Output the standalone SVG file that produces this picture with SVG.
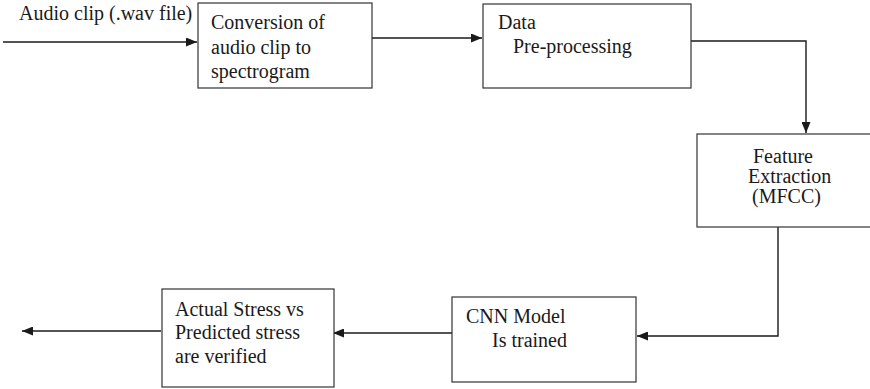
<svg xmlns="http://www.w3.org/2000/svg" width="870" height="389" viewBox="0 0 870 389">
  <style>
    .box { fill: #ffffff; stroke: #333333; stroke-width: 1.2; }
    .lbl { font-family: "Liberation Serif", "Times New Roman", serif; font-size: 20px; fill: #1a1a1a; }
    .wire { fill: none; stroke: #1a1a1a; stroke-width: 1.4; }
  </style>
  <defs>
    <marker id="arrow" markerWidth="11" markerHeight="9" refX="11" refY="4.5" orient="auto" markerUnits="userSpaceOnUse">
      <path d="M0,0 L11,4.5 L0,9 Z" fill="#1a1a1a"/>
    </marker>
  </defs>
  <rect width="870" height="389" fill="#ffffff"/>

  <g id="connectors">
    <path class="wire" d="M3,42 L197,42" marker-end="url(#arrow)"/>
    <path class="wire" d="M372,38 L482,38" marker-end="url(#arrow)"/>
    <path class="wire" d="M689,41 L806,41 L806,133" marker-end="url(#arrow)"/>
    <path class="wire" d="M778,227 L778,336 L637,336" marker-end="url(#arrow)"/>
    <path class="wire" d="M452,333 L333,333" marker-end="url(#arrow)"/>
    <path class="wire" d="M161,331 L22,331" marker-end="url(#arrow)"/>
  </g>

  <g id="input-label">
    <text class="lbl" x="19" y="20">Audio clip (.wav file)</text>
  </g>

  <g id="conversion">
    <rect class="box" x="198" y="3" width="174" height="85"/>
    <text class="lbl" x="211" y="29">Conversion of</text>
    <text class="lbl" x="211" y="54">audio clip to</text>
    <text class="lbl" x="211" y="78">spectrogram</text>
  </g>

  <g id="preprocessing">
    <rect class="box" x="483" y="4" width="208" height="84"/>
    <text class="lbl" x="498" y="29">Data</text>
    <text class="lbl" x="513" y="53">Pre-processing</text>
  </g>

  <g id="feature-extraction">
    <rect class="box" x="697" y="134" width="180" height="93"/>
    <text class="lbl" x="753" y="163">Feature</text>
    <text class="lbl" x="748" y="183">Extraction</text>
    <text class="lbl" x="752" y="203">(MFCC)</text>
  </g>

  <g id="cnn-model">
    <rect class="box" x="452" y="297" width="184" height="85"/>
    <text class="lbl" x="466" y="323">CNN Model</text>
    <text class="lbl" x="492" y="347">Is trained</text>
  </g>

  <g id="verification">
    <rect class="box" x="162" y="289" width="172" height="98"/>
    <text class="lbl" x="175" y="316">Actual Stress vs</text>
    <text class="lbl" x="175" y="339">Predicted stress</text>
    <text class="lbl" x="175" y="363">are verified</text>
  </g>
</svg>
